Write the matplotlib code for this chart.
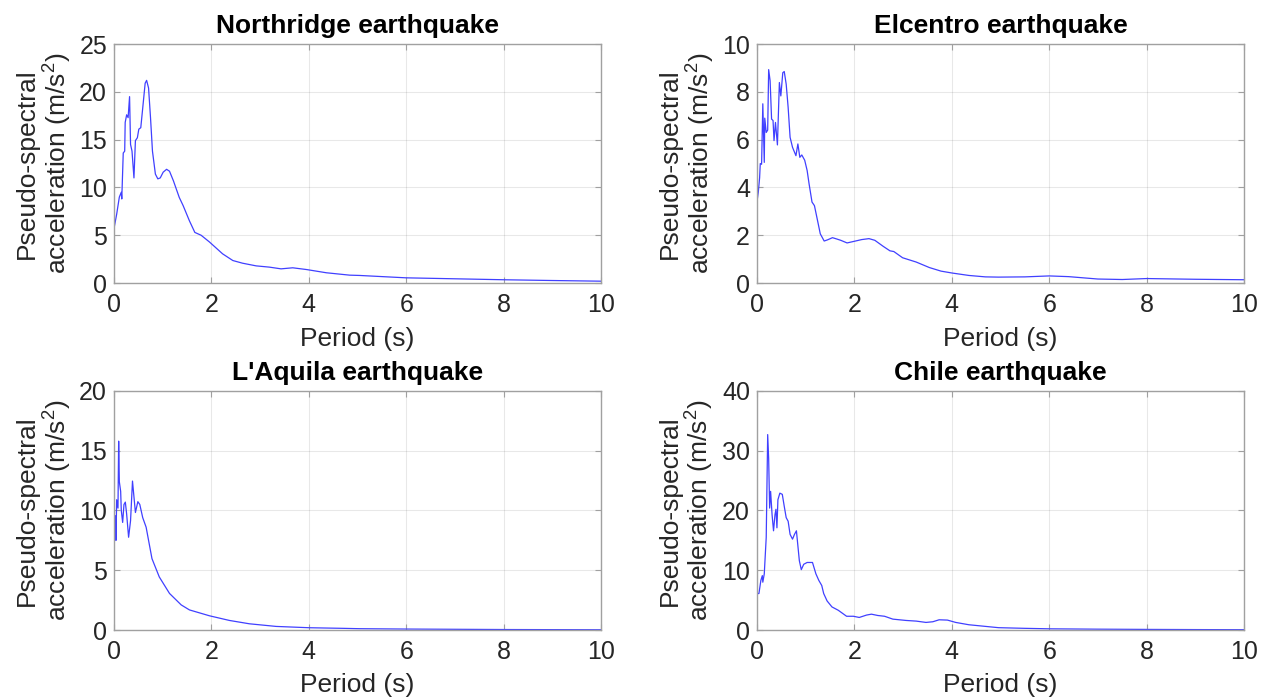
import numpy as np
import matplotlib
matplotlib.use("Agg")
import matplotlib.pyplot as plt

plt.rcParams["font.family"] = ["Liberation Sans", "DejaVu Sans"]
plt.rcParams["mathtext.fontset"] = "custom"
plt.rcParams["mathtext.rm"] = "Liberation Sans"
plt.rcParams["mathtext.it"] = "Liberation Sans:italic"
plt.rcParams["mathtext.bf"] = "Liberation Sans:bold"

# Pseudo-spectral acceleration response spectra (period in s, PSA in m/s^2)
northridge_T = [0, 0.055, 0.11, 0.15, 0.16, 0.19, 0.22, 0.23, 0.26, 0.29, 0.32, 0.34,
                0.37, 0.41, 0.44, 0.48, 0.51, 0.55, 0.59, 0.64, 0.67, 0.71, 0.75, 0.79,
                0.85, 0.90, 0.95, 1.01, 1.08, 1.14, 1.22, 1.34, 1.42, 1.55, 1.66, 1.79,
                1.96, 2.23, 2.44, 2.64, 2.92, 3.19, 3.43, 3.67, 3.95, 4.36, 4.84, 5.04,
                5.5, 6.0, 7.0, 8.0, 9.0, 10.0]
northridge_psa = [5.7, 7.2, 9.0, 9.5, 8.8, 13.6, 13.8, 16.8, 17.6, 17.3, 19.5, 14.5,
                  13.8, 11.0, 14.9, 15.2, 16.1, 16.25, 18.3, 20.9, 21.2, 20.4, 17.3, 13.8,
                  11.4, 10.9, 11.0, 11.6, 11.9, 11.7, 10.7, 8.96, 8.1, 6.5, 5.3, 5.0,
                  4.3, 3.06, 2.36, 2.08, 1.8, 1.67, 1.49, 1.6, 1.42, 1.08, 0.83, 0.8,
                  0.68, 0.55, 0.45, 0.35, 0.27, 0.2]

elcentro_T = [0, 0.027, 0.054, 0.068, 0.095, 0.12, 0.15, 0.16, 0.19, 0.22, 0.24, 0.27,
              0.30, 0.33, 0.35, 0.38, 0.42, 0.46, 0.49, 0.53, 0.56, 0.60, 0.64, 0.68,
              0.73, 0.80, 0.84, 0.88, 0.92, 0.98, 1.03, 1.07, 1.13, 1.18, 1.23, 1.30,
              1.38, 1.45, 1.55, 1.63, 1.72, 1.85, 1.98, 2.15, 2.30, 2.42, 2.59, 2.73,
              2.81, 2.99, 3.27, 3.54, 3.78, 4.01, 4.35, 4.69, 4.96, 5.5, 6.0, 6.4,
              7.0, 7.5, 8.0, 9.0, 10.0]
elcentro_psa = [3.4, 3.8, 4.4, 5.0, 4.97, 7.5, 5.05, 6.9, 6.3, 6.4, 8.93, 8.46,
                6.86, 6.8, 5.96, 6.72, 5.78, 8.39, 7.83, 8.8, 8.85, 8.32, 7.35, 6.1,
                5.68, 5.33, 5.82, 5.26, 5.36, 5.14, 4.71, 4.15, 3.39, 3.24, 2.75, 2.06,
                1.76, 1.81, 1.9, 1.85, 1.79, 1.68, 1.74, 1.82, 1.86, 1.79, 1.54, 1.35,
                1.32, 1.06, 0.88, 0.65, 0.5, 0.42, 0.32, 0.26, 0.25, 0.26, 0.3, 0.27,
                0.17, 0.15, 0.19, 0.16, 0.14]

laquila_T = [0, 0.027, 0.041, 0.055, 0.082, 0.096, 0.11, 0.137, 0.15, 0.178, 0.205,
             0.233, 0.26, 0.30, 0.34, 0.38, 0.44, 0.49, 0.53, 0.59, 0.66, 0.71, 0.78,
             0.93, 1.14, 1.38, 1.55, 1.96, 2.37, 2.78, 3.33, 4.01, 4.70, 5.04, 6.0,
             7.0, 8.0, 9.0, 10.0]
laquila_psa = [6.4, 9.56, 7.5, 10.9, 10.2, 15.8, 12.4, 11.6, 10.0, 9.0, 10.5,
               10.7, 9.7, 7.76, 9.14, 12.46, 9.83, 10.74, 10.5, 9.4, 8.6, 7.5, 5.97,
               4.44, 3.06, 2.1, 1.68, 1.19, 0.8, 0.52, 0.30, 0.19, 0.14, 0.11, 0.08,
               0.06, 0.04, 0.03, 0.02]

chile_T = [0, 0.04, 0.08, 0.11, 0.12, 0.15, 0.19, 0.22, 0.24, 0.26, 0.28, 0.31,
           0.34, 0.37, 0.39, 0.41, 0.43, 0.47, 0.52, 0.56, 0.60, 0.64, 0.68, 0.73,
           0.77, 0.81, 0.87, 0.91, 0.96, 1.03, 1.14, 1.21, 1.27, 1.33, 1.37, 1.44,
           1.54, 1.67, 1.84, 1.98, 2.10, 2.25, 2.35, 2.48, 2.62, 2.79, 3.06, 3.27,
           3.47, 3.61, 3.74, 3.91, 4.08, 4.35, 4.76, 4.96, 5.5, 6.0, 7.0, 8.0, 9.0, 10.0]
chile_psa = [6.1, 6.1, 8.3, 9.1, 8.0, 9.4, 15.5, 32.7, 28.7, 20.4, 23.2, 19.3,
             16.6, 19.3, 20.2, 17.1, 21.8, 22.9, 22.7, 20.7, 18.8, 18.2, 16.0, 15.2,
             16.0, 16.6, 11.6, 10.1, 11.0, 11.3, 11.3, 9.4, 8.3, 7.45, 6.1, 4.86,
             3.86, 3.3, 2.3, 2.3, 2.1, 2.5, 2.65, 2.43, 2.3, 1.82, 1.60, 1.49,
             1.27, 1.38, 1.71, 1.66, 1.27, 0.88, 0.55, 0.39, 0.28, 0.2, 0.14, 0.1,
             0.07, 0.05]

titles = ["Northridge earthquake", "Elcentro earthquake",
          "L'Aquila earthquake", "Chile earthquake"]
periods = [northridge_T, elcentro_T, laquila_T, chile_T]
spectra = [northridge_psa, elcentro_psa, laquila_psa, chile_psa]
y_limits = [25, 10, 20, 40]
y_steps = [5, 2, 5, 10]

fig = plt.figure(figsize=(12.75, 6.99), dpi=100)

W = 0.382
H = 0.342
lefts = [0.0894, 0.5937, 0.0894, 0.5937]
bottoms = [0.595, 0.595, 0.0987, 0.0987]

text_color = "#262626"
edge_color = "#a0a0a0"

for i in range(4):
    ax = fig.add_axes([lefts[i], bottoms[i], W, H])
    ax.plot(periods[i], spectra[i], color=(0.25, 0.25, 1.0), lw=0.9)
    ax.set_xlim(0, 10)
    ax.set_ylim(0, y_limits[i])
    ax.set_xticks(np.arange(0, 11, 2))
    ax.set_yticks(np.arange(0, y_limits[i] + 0.1, y_steps[i]))
    ax.grid(True, color="#000000", alpha=0.09, lw=0.8)
    for s in ax.spines.values():
        s.set_color(edge_color)
        s.set_linewidth(1.0)
    ax.tick_params(direction="in", length=4, width=0.8, colors=edge_color,
                   labelcolor=text_color, labelsize=18, top=True, right=True)
    ax.tick_params(axis="x", pad=7)
    ax.tick_params(axis="y", pad=5)
    ax.set_xlabel("Period (s)", fontsize=19, color=text_color, labelpad=7)
    ax.set_ylabel("Pseudo-spectral\nacceleration (m/s$^2$)", fontsize=19,
                  color=text_color, labelpad=4, linespacing=1.1)
    ax.set_title(titles[i], fontsize=19, fontweight="bold", color="black", pad=8)

fig.savefig("out.png", dpi=100)
